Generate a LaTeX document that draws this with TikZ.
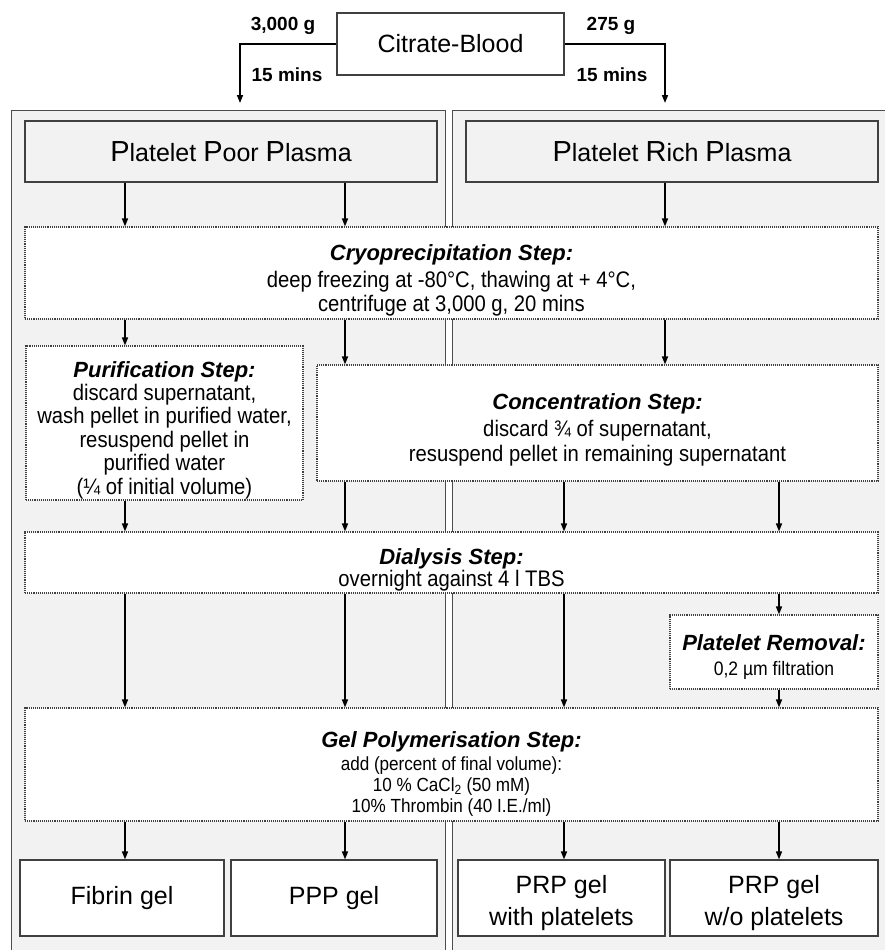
\documentclass[tikz,border=0pt]{standalone}
\usepackage{fontspec}
\setmainfont{Liberation Sans}
\newfontfamily\narrowsans[FakeStretch=0.9]{Liberation Sans}
\usetikzlibrary{arrows.meta}

\tikzset{
  panel/.style={draw=black!70, fill=black!5, line width=0.8pt},
  plasmabox/.style={draw=black!75, fill=black!5, line width=1.2pt, inner sep=0pt,
    minimum width=412pt, minimum height=61pt, font=\fontsize{25}{30}\selectfont},
  stepbox/.style={draw=black!75, fill=white, densely dotted, line width=1.1pt,
    inner sep=0pt, align=center, font=\narrowsans\fontsize{22.5}{23.4}\selectfont},
  gelbox/.style={draw=black!75, fill=white, line width=1.2pt, inner sep=0pt,
    minimum height=76pt, align=center, font=\fontsize{25}{32}\selectfont},
  spin/.style={font=\fontsize{19}{22}\selectfont\bfseries},
  flow/.style={->, line width=1.5pt},
  >={Triangle[length=8pt,width=6pt]}
}
% title of a step; the strut pushes the text block down a little
\newcommand{\steptitle}[2][30]{\rule{0pt}{#1pt}{\rmfamily\fontsize{22}{24}\selectfont\bfseries\itshape #2}}
\newcommand{\initial}[1]{{\fontsize{29}{30}\selectfont #1}}
\newcommand{\gelline}{\fontsize{19}{20}\selectfont}

\begin{document}
\begin{tikzpicture}[x=1pt,y=-1pt]
  \useasboundingbox (0,0) rectangle (885,950);
  \clip (0,0) rectangle (885,950);

  % the two panels
  \draw[panel] (11,110) rectangle (445,960);
  \draw[panel] (452,110) rectangle (895,960);

  % columns of the arrows
  \coordinate (colA) at (125,0);
  \coordinate (colB) at (345,0);
  \coordinate (colC) at (564,0);
  \coordinate (colR) at (665,0);
  \coordinate (colD) at (779,0);

  % start
  \node[draw=black!75, fill=white, line width=1.2pt, minimum width=227pt,
    minimum height=62pt, font=\fontsize{25}{30}\selectfont] (blood) at (450.5,44) {Citrate-Blood};
  \coordinate (pooltip) at (240,103);
  \coordinate (richtip) at (665,103);
  \draw[flow] (blood.west) -| (pooltip);
  \draw[flow] (blood.east) -| (richtip);
  \node[spin] (poolg) at (283,26) {3,000 g};
  \node[spin] (pooltime) at (287,75) {15 mins};
  \node[spin] (richg) at (611,26) {275 g};
  \node[spin] (richtime) at (612,75) {15 mins};

  % plasma
  \node[plasmabox] (ppp) at (231,151.5) {\initial{P}latelet \initial{P}oor \initial{P}lasma};
  \node[plasmabox] (prp) at (672,151.5) {\initial{P}latelet \initial{R}ich \initial{P}lasma};

  % steps
  \node[stepbox, minimum width=853pt, minimum height=92pt] (cryo) at (451.5,273)
    {\steptitle[31]{Cryoprecipitation Step:}\\[3pt]
     deep freezing at -80°C, thawing at + 4°C,\\[1pt]
     centrifuge at 3,000 g, 20 mins};
  \node[stepbox, minimum width=277pt, minimum height=154pt] (purif) at (164.5,423)
    {\steptitle{Purification Step:}\\
     discard supernatant,\\
     wash pellet in purified water,\\
     resuspend pellet in\\
     purified water\\
     (¼ of initial volume)};
  \node[stepbox, minimum width=561pt, minimum height=116pt] (conc) at (597.5,423)
    {\steptitle{Concentration Step:}\\[3pt]
     discard ¾ of supernatant,\\[2pt]
     resuspend pellet in remaining supernatant};
  \node[stepbox, minimum width=853pt, minimum height=61pt] (dial) at (451.5,562.5)
    {\steptitle[31]{Dialysis Step:}\\[-1.5pt]
     overnight against 4 l TBS};
  \node[stepbox, minimum width=208pt, minimum height=74pt] (removal) at (774,652)
    {\steptitle[26]{Platelet Removal:}\\[2pt]
     {\fontsize{19.5}{22}\selectfont 0,2 µm filtration}};
  \node[stepbox, minimum width=853pt, minimum height=113pt] (gel) at (451.5,764.5)
    {\steptitle[35]{Gel Polymerisation Step:}\\[-1pt]
     {\gelline add (percent of final volume):}\\[-2pt]
     {\gelline 10 \% CaCl\textsubscript{2} (50 mM)}\\[-2.5pt]
     {\gelline 10\% Thrombin (40 I.E./ml)}};

  % products
  \node[gelbox, minimum width=204pt] (fibrin) at (122,898) {Fibrin gel};
  \node[gelbox, minimum width=206pt] (pppgel) at (334,898) {PPP gel};
  \node[gelbox, minimum width=207pt] (prpwith) at (561.5,898) {\rule{0pt}{28pt}PRP gel\\with platelets};
  \node[gelbox, minimum width=208pt] (prpwo) at (774,898) {\rule{0pt}{28pt}PRP gel\\w/o platelets};

  % arrows
  \draw[flow] (ppp.south -| colA) -- (cryo.north -| colA);
  \draw[flow] (ppp.south -| colB) -- (cryo.north -| colB);
  \draw[flow] (prp.south -| colR) -- (cryo.north -| colR);

  \draw[flow] (cryo.south -| colA) -- (purif.north -| colA);
  \draw[flow] (cryo.south -| colB) -- (conc.north -| colB);
  \draw[flow] (cryo.south -| colR) -- (conc.north -| colR);

  \draw[flow] (purif.south -| colA) -- (dial.north -| colA);
  \foreach \c in {colB,colC,colD}
    {\draw[flow] (conc.south -| \c) -- (dial.north -| \c);}

  \foreach \c in {colA,colB,colC}
    {\draw[flow] (dial.south -| \c) -- (gel.north -| \c);}
  \draw[flow] (dial.south -| colD) -- (removal.north -| colD);
  \draw[flow] (removal.south -| colD) -- (gel.north -| colD);

  \draw[flow] (gel.south -| colA) -- (fibrin.north -| colA);
  \draw[flow] (gel.south -| colB) -- (pppgel.north -| colB);
  \draw[flow] (gel.south -| colC) -- (prpwith.north -| colC);
  \draw[flow] (gel.south -| colD) -- (prpwo.north -| colD);
\end{tikzpicture}
\end{document}
